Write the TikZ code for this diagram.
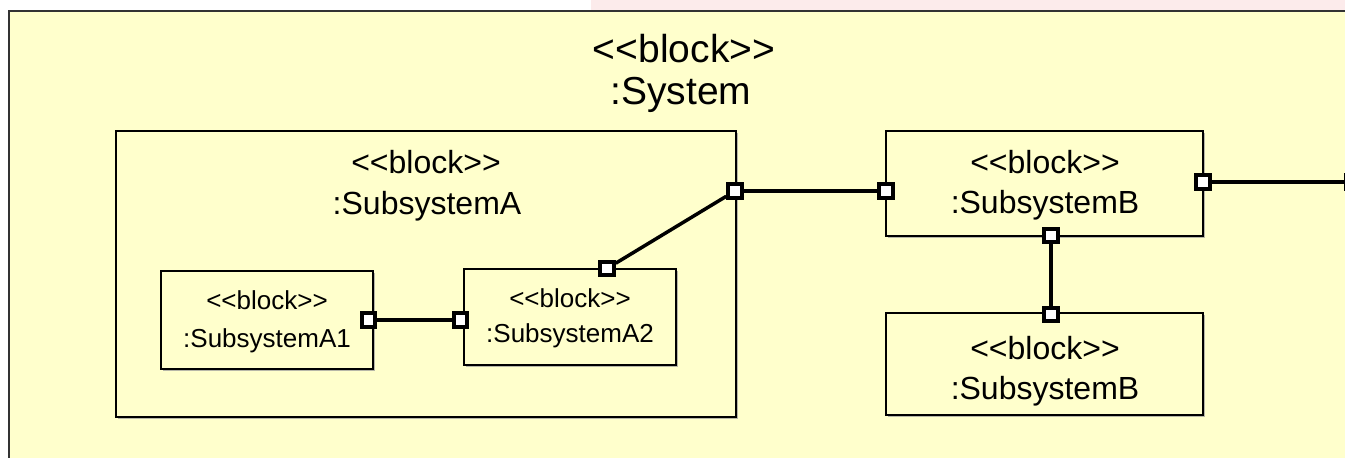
\documentclass[tikz,border=0pt]{standalone}
\usepackage{fontspec}
\newfontfamily\umlfont{Liberation Sans}
\usetikzlibrary{shadows}
\definecolor{blockfill}{RGB}{255,255,204}
\definecolor{bandpink}{RGB}{252,235,235}
\begin{document}
\begin{tikzpicture}[x=1pt,y=-1pt,
  blockbox/.style={draw=black, line width=1.5pt, fill=blockfill, inner sep=0pt,
    drop shadow={shadow xshift=1.5pt, shadow yshift=-1.5pt, fill=black!40, opacity=0.7}},
  port/.style={draw=black, line width=4pt, fill=white, minimum size=13.5pt, inner sep=0pt},
  conn/.style={line width=3.5pt},
  bigtxt/.style={font=\umlfont\fontsize{39}{44}\selectfont, anchor=base, inner sep=0pt},
  midtxt/.style={font=\umlfont\fontsize{32}{40}\selectfont, anchor=base, inner sep=0pt},
  smalltxt/.style={font=\umlfont\fontsize{26}{36}\selectfont, anchor=base, inner sep=0pt}]
\useasboundingbox (0,0) rectangle (1345,458);
\begin{scope}
\clip (0,0) rectangle (1345,458);
% strip of the neighbouring element above the frame
\fill[bandpink] (591,0) rectangle (1345,11);
% enclosing System block
\draw[draw=black!80, line width=2pt, fill=blockfill] (9,11) rectangle (1370,480);
\node[bigtxt] (sysT) at (684,62) {<<block>>};
\node[bigtxt] (sysN) at (681,104) {:System};

% SubsystemA
\node[blockbox, minimum width=620pt, minimum height=286pt] (subA) at (426,274) {};
\node[midtxt] (subAT) at (426,173) {<<block>>};
\node[midtxt] (subAN) at (427,214) {:SubsystemA};

% SubsystemA1
\node[blockbox, minimum width=212pt, minimum height=98pt] (subA1) at (267,320) {};
\node[smalltxt] (subA1T) at (267,309) {<<block>>};
\node[smalltxt] (subA1N) at (267,347) {:SubsystemA1};

% SubsystemA2
\node[blockbox, minimum width=212pt, minimum height=96pt] (subA2) at (570,317) {};
\node[smalltxt] (subA2T) at (570,307) {<<block>>};
\node[smalltxt] (subA2N) at (570,342) {:SubsystemA2};

% SubsystemB (upper)
\node[blockbox, minimum width=317pt, minimum height=105pt] (subB) at (1044.5,183.5) {};
\node[midtxt] (subBT) at (1045,173) {<<block>>};
\node[midtxt] (subBN) at (1045,213) {:SubsystemB};

% SubsystemB (lower)
\node[blockbox, minimum width=317pt, minimum height=102pt] (subB2) at (1044.5,364) {};
\node[midtxt] (subB2T) at (1045,359) {<<block>>};
\node[midtxt] (subB2N) at (1045,399) {:SubsystemB};

% ports
\node[port] (pA1) at (368.5,320) {};
\node[port] (pA2L) at (460.5,320) {};
\node[port] (pA2T) at (607,268.5) {};
\node[port] (pAR) at (735,191) {};
\node[port] (pBL) at (886,191) {};
\node[port] (pBR) at (1203,182) {};
\node[port] (pBB) at (1051,235.5) {};
\node[port] (pB2T) at (1051,314.5) {};
\node[port] (pX) at (1353,182) {};

% connectors, ending at the port borders
\draw[conn] (pA1) -- (pA2L);
\draw[conn] (pA2T) -- (pAR);
\draw[conn] (pAR) -- (pBL);
\draw[conn] (pBB) -- (pB2T);
\draw[conn] (pBR) -- (pX);
\end{scope}
\end{tikzpicture}
\end{document}
